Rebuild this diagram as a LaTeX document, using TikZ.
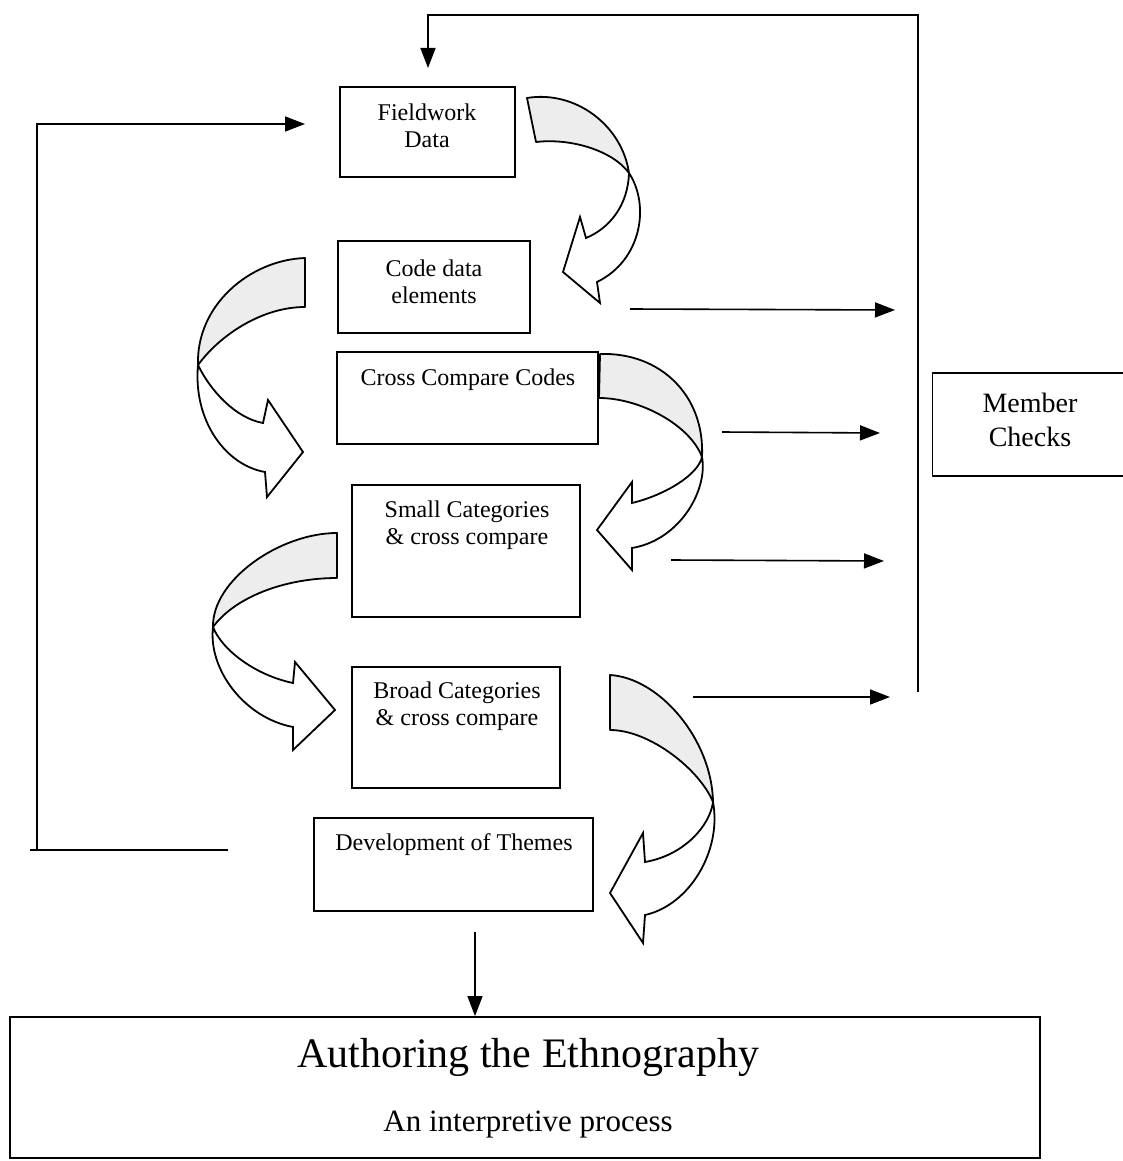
\documentclass[tikz,border=0pt]{standalone}
\usepackage{fontspec}
\setmainfont{Liberation Serif}
\usetikzlibrary{arrows.meta}
\begin{document}
\begin{tikzpicture}[x=1pt,y=-1pt,
  box/.style={draw, line width=1.8pt, inner sep=0pt},
  lbl/.style={font=\fontsize{24}{27}\selectfont, align=center, inner sep=0pt},
  conn/.style={line width=1.6pt},
  arr/.style={conn, -{Triangle[length=20pt,width=15pt]}},
  bandback/.style={draw, line width=1.8pt, fill=black!7, line join=round},
  bandfront/.style={draw, line width=1.8pt, fill=white, line join=miter},
]
\useasboundingbox (0,0) rectangle (1122,1161);
\fill[white] (0,0) rectangle (1122,1161);

% boxes
\node[box, minimum width=175pt, minimum height=90pt] (field) at (427.5,132) {};
\node[box, minimum width=192pt, minimum height=92pt] (code) at (434,287) {};
\node[box, minimum width=261pt, minimum height=92pt] (cross) at (467.5,398) {};
\node[box, minimum width=228pt, minimum height=132pt] (small) at (466,551) {};
\node[box, minimum width=208pt, minimum height=121pt] (broad) at (456,727.5) {};
\node[box, minimum width=279pt, minimum height=93pt] (dev) at (453.5,864.5) {};
\node[box, minimum width=193pt, minimum height=103pt] (member) at (1029,424.5) {};
\node[box, minimum width=1030pt, minimum height=141pt] (auth) at (525,1087.5) {};

% texts
\node[lbl] (tfield) at (427,126) {Fieldwork\\Data};
\node[lbl] (tcode) at (434,282) {Code data\\elements};
\node[lbl] (tcross) at (468,380) {Cross Compare Codes};
\node[lbl] (tsmall) at (467,525) {Small Categories\\\& cross compare};
\node[lbl] (tbroad) at (457,706) {Broad Categories\\\& cross compare};
\node[lbl] (tdev) at (454,845) {Development of Themes};
\node[lbl, font=\fontsize{28}{34}\selectfont] (tmember) at (1030,420) {Member\\Checks};
\node[inner sep=0pt, font=\fontsize{42}{48}\selectfont] (ttitle) at (528,1057) {Authoring the Ethnography};
\node[inner sep=0pt, font=\fontsize{31}{36}\selectfont] (tsub) at (528,1125) {An interpretive process};

% curved arrow 1 (Fieldwork -> Code), right side
\draw[bandback] (527,98) .. controls (575,90) and (622,125) .. (629,173)
  .. controls (612,150) and (570,138) .. (536,142) -- cycle;
\draw[bandfront] (629,173) .. controls (650,205) and (642,260) .. (597,282)
  -- (600,303) -- (563,272) -- (580,217) -- (586,238)
  .. controls (610,228) and (628,205) .. (629,173) -- cycle;

% curved arrow 2 (Code -> Cross), left side
\draw[bandback] (305,258) .. controls (250,260) and (196,305) .. (198,365)
  .. controls (220,335) and (262,307) .. (305,307) -- cycle;
\draw[bandfront] (198,365) .. controls (193,420) and (225,465) .. (265,472)
  -- (267,497) -- (303,452) -- (268,400) -- (263,423)
  .. controls (235,418) and (210,390) .. (198,365) -- cycle;

% curved arrow 3 (Cross -> Small), right side
\draw[bandback] (600,354) .. controls (660,352) and (705,395) .. (702,457)
  .. controls (690,425) and (640,398) .. (599,398) -- cycle;
\draw[bandfront] (702,457) .. controls (708,490) and (680,540) .. (632,548)
  -- (632,570) -- (597,530) -- (632,482) -- (632,503)
  .. controls (665,495) and (698,475) .. (702,457) -- cycle;

% curved arrow 4 (Small -> Broad), left side
\draw[bandback] (337,533) .. controls (280,533) and (212,580) .. (213,627)
  .. controls (235,597) and (285,578) .. (337,578) -- cycle;
\draw[bandfront] (213,627) .. controls (208,670) and (245,718) .. (293,727)
  -- (293,750) -- (335,710) -- (295,662) -- (293,683)
  .. controls (255,675) and (222,650) .. (213,627) -- cycle;

% curved arrow 5 (Broad -> Development), right side
\draw[bandback] (610,675) .. controls (660,678) and (712,740) .. (713,802)
  .. controls (700,770) and (650,730) .. (610,730) -- cycle;
\draw[bandfront] (713,802) .. controls (722,850) and (690,905) .. (645,915)
  -- (643,943) -- (610,893) -- (643,833) -- (645,862)
  .. controls (685,855) and (710,825) .. (713,802) -- cycle;

% arrows to member checks
\coordinate (r1a) at (630,309); \coordinate (r1b) at (895,310);
\coordinate (r2a) at (722,432); \coordinate (r2b) at (880,433);
\coordinate (r3a) at (671,560); \coordinate (r3b) at (884,561);
\coordinate (r4a) at (693,697); \coordinate (r4b) at (890,697);
\draw[arr] (r1a) -- (r1b);
\draw[arr] (r2a) -- (r2b);
\draw[arr] (r3a) -- (r3b);
\draw[arr] (r4a) -- (r4b);

% feedback loop top
\coordinate (fb) at (918,692);
\coordinate (ft) at (428,68);
\draw[arr] (fb) -- (918,15) -| (ft);

% left loop
\coordinate (lb) at (228,850);
\coordinate (lt) at (305,124);
\draw[conn] (lb) -- (30,850);
\draw[arr] (37,850) |- (lt);

% down to authoring
\coordinate (d1) at (475,932);
\draw[arr] (d1) -- (d1 |- auth.north);
\end{tikzpicture}
\end{document}
